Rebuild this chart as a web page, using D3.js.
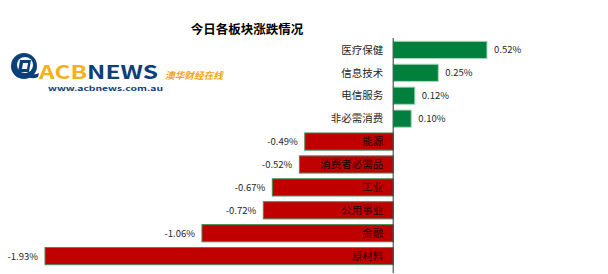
<!DOCTYPE html>
<html>
<head>
<meta charset="utf-8">
<script src="https://cdn.jsdelivr.net/npm/d3@7"></script>
<style>
  body { margin: 0; background: #fff; }
  svg text { font-family: "Noto Sans CJK SC", "Microsoft YaHei", sans-serif; }
</style>
</head>
<body>
<svg id="chart" width="608" height="274"></svg>
<script>
// sector names and today's change (%)
const sectors = ["医疗保健", "信息技术", "电信服务", "非必需消费", "能源", "消费者必需品", "工业", "公用事业", "金融", "原材料"];
const changes = [0.52, 0.25, 0.12, 0.10, -0.49, -0.52, -0.67, -0.72, -1.06, -1.93];
const title = "今日各板块涨跌情况";

const svg = d3.select("#chart");

// title
svg.append("text")
  .attr("x", 247).attr("y", 34)
  .attr("text-anchor", "middle")
  .attr("font-size", "12.5px")
  .attr("font-weight", "bold")
  .attr("fill", "#000")
  .text(title);

// scales
const x = d3.scaleLinear().domain([-1.93, 0.52]).range([45, 487]);
const y = d3.scaleBand().domain(sectors).range([39, 267]).paddingInner(0.25).paddingOuter(0.1);

const data = sectors.map((s, i) => ({ name: s, v: changes[i] }));

const rows = svg.append("g").selectAll("g").data(data).enter().append("g");

rows.append("rect")
  .attr("x", d => x(Math.min(0, d.v)))
  .attr("y", d => y(d.name))
  .attr("width", d => Math.abs(x(d.v) - x(0)))
  .attr("height", y.bandwidth())
  .attr("fill", d => d.v >= 0 ? "#007f3d" : "#c00000")
  .attr("stroke", d => d.v >= 0 ? "#a9d8b8" : "#3f8f5a")
  .attr("stroke-width", 1);

// category labels, right-aligned at the axis
rows.append("text")
  .attr("x", x(0) - 10)
  .attr("y", d => y(d.name) + y.bandwidth() / 2)
  .attr("dy", "0.36em")
  .attr("text-anchor", "end")
  .attr("font-size", "10.5px")
  .attr("fill", d => d.v >= 0 ? "#262626" : "#1a0000")
  .text(d => d.name);

// value labels outside the bars
rows.append("text")
  .attr("x", d => d.v >= 0 ? x(d.v) + 7 : x(d.v) - 7)
  .attr("y", d => y(d.name) + y.bandwidth() / 2)
  .attr("dy", "0.36em")
  .attr("text-anchor", d => d.v >= 0 ? "start" : "end")
  .attr("font-size", "9.5px")
  .attr("fill", "#262626")
  .text(d => d.v.toFixed(2) + "%");

// vertical axis line at zero
svg.append("line")
  .attr("x1", x(0)).attr("x2", x(0))
  .attr("y1", 38).attr("y2", 273)
  .attr("stroke", "#333").attr("stroke-width", 1);

// ACBNEWS logo
const logo = svg.append("g");
logo.append("circle").attr("cx", 24).attr("cy", 66).attr("r", 13).attr("fill", "#0d3f78");
logo.append("circle").attr("cx", 25).attr("cy", 65).attr("r", 8).attr("fill", "#fff");
logo.append("path").attr("d", "M20,60 L31,60 L29,72 L18,72 Z").attr("fill", "#0d3f78");
logo.append("path").attr("d", "M23,63 L28,63 L27,69 L22,69 Z").attr("fill", "#fff");
logo.append("path").attr("d", "M28,72 Q34,76 39,73 L38,77 Q32,80 26,76 Z").attr("fill", "#0d3f78");
logo.append("text")
  .attr("x", 39).attr("y", 79)
  .attr("font-family", "'DejaVu Sans Condensed', 'Liberation Sans Narrow', sans-serif")
  .attr("font-size", "19px").attr("font-weight", "bold")
  .attr("textLength", 119).attr("lengthAdjust", "spacingAndGlyphs")
  .html('<tspan fill="#f3b21b">ACB</tspan><tspan fill="#0d3f78">NEWS</tspan>');
logo.append("text")
  .attr("x", 165).attr("y", 79)
  .attr("font-size", "9.5px").attr("font-style", "italic").attr("font-weight", "bold")
  .attr("fill", "#f3a51b")
  .attr("textLength", 58).attr("lengthAdjust", "spacingAndGlyphs")
  .text("澳华财经在线");
logo.append("text")
  .attr("x", 48).attr("y", 91)
  .attr("font-family", "'DejaVu Sans Mono', monospace")
  .attr("font-size", "7px").attr("font-weight", "bold")
  .attr("fill", "#0d3f78")
  .attr("textLength", 115).attr("lengthAdjust", "spacingAndGlyphs")
  .text("www.acbnews.com.au");
</script>
</body>
</html>
